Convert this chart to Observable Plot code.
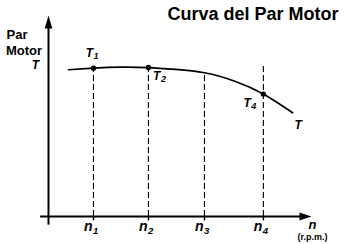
<!DOCTYPE html>
<html>
<head>
<meta charset="utf-8">
<script src="https://cdn.jsdelivr.net/npm/d3@7"></script>
<script src="https://cdn.jsdelivr.net/npm/@observablehq/plot@0.6"></script>
<style>
  html, body { margin: 0; padding: 0; background: #fff; }
</style>
</head>
<body>
<div id="chart"></div>
<script>
// Speed values (arbitrary units along the n axis)
const speedLabels = ["1", "2", "3", "4"];
const speeds = [1.71, 3.80, 5.93, 8.17];
// height where each dashed guide ends
const guideTops = [7.38, 7.41, 7.15, 7.56];

// Torque curve T(n)
const curveN = [0.76, 1.71, 2.74, 3.80, 4.83, 5.93, 7.11, 8.17, 9.28];
const curveT = [7.30, 7.38, 7.43, 7.41, 7.32, 7.15, 6.72, 6.09, 5.16];

// Marked torque points
const pointLabels = ["1", "2", "4"];
const pointN = [1.71, 3.80, 8.17];
const pointT = [7.38, 7.41, 6.09];

const xMax = 10, yMax = 10;

const curve = curveN.map((n, i) => ({n, t: curveT[i]}));
const guides = speeds.map((n, i) => ({n, top: guideTops[i], label: speedLabels[i]}));
const pts = pointN.map((n, i) => ({n, t: pointT[i], label: pointLabels[i]}));

const arrowUp = {draw(ctx) { ctx.moveTo(0, 0); ctx.lineTo(3.8, 13); ctx.lineTo(-3.8, 13); ctx.closePath(); }};
const arrowRight = {draw(ctx) { ctx.moveTo(0, 0); ctx.lineTo(-12, -4); ctx.lineTo(-12, 4); ctx.closePath(); }};

const font = "Liberation Sans, Arial, sans-serif";
const B = {fontWeight: "bold", fill: "black", stroke: "none", lineAnchor: "middle"};
const BI = {...B, fontStyle: "italic"};

const chart = Plot.plot({
  width: 350,
  height: 244,
  marginLeft: 48,
  marginRight: 39,
  marginTop: 15,
  marginBottom: 28,
  x: {domain: [0, xMax], axis: null},
  y: {domain: [0, yMax], axis: null},
  style: {fontFamily: font, background: "white", overflow: "visible"},
  marks: [
    // dashed guides
    Plot.ruleX(guides, {x: "n", y1: 0, y2: "top", stroke: "black", strokeWidth: 1.1, strokeDasharray: "6,3"}),
    // ticks below axis
    Plot.ruleX(guides, {x: "n", y1: 0, y2: -0.22, stroke: "black", strokeWidth: 1.5}),
    // axes
    Plot.ruleY([0], {x1: -0.3, x2: xMax - 0.3, stroke: "black", strokeWidth: 2}),
    Plot.ruleX([0], {y1: -0.43, y2: yMax - 0.4, stroke: "black", strokeWidth: 2}),
    Plot.dot([{x: 0, y: yMax}], {x: "x", y: "y", symbol: arrowUp, fill: "black", stroke: "none", r: 5}),
    Plot.dot([{x: xMax, y: 0}], {x: "x", y: "y", symbol: arrowRight, fill: "black", stroke: "none", r: 5}),
    // torque curve
    Plot.line(curve, {x: "n", y: "t", curve: "natural", stroke: "black", strokeWidth: 1.7}),
    Plot.dot(pts, {x: "n", y: "t", r: 2.7, fill: "black", stroke: "none"}),
    // point labels
    Plot.text([pts[0]], {x: "n", y: "t", text: () => "T", ...BI, fontSize: 12, textAnchor: "end", dx: -0.5, dy: -15}),
    Plot.text([pts[0]], {x: "n", y: "t", text: "label", ...BI, fontSize: 9, textAnchor: "start", dx: 0, dy: -12}),
    Plot.text([pts[1]], {x: "n", y: "t", text: () => "T", ...BI, fontSize: 12, textAnchor: "start", dx: 4.5, dy: 8.5}),
    Plot.text([pts[1]], {x: "n", y: "t", text: "label", ...BI, fontSize: 9, textAnchor: "start", dx: 12.5, dy: 12}),
    Plot.text([pts[2]], {x: "n", y: "t", text: () => "T", ...BI, fontSize: 12, textAnchor: "end", dx: -12.5, dy: 9.5}),
    Plot.text([pts[2]], {x: "n", y: "t", text: "label", ...BI, fontSize: 9, textAnchor: "start", dx: -12, dy: 12.5}),
    Plot.text([curve[curve.length - 1]], {x: "n", y: "t", text: () => "T", ...BI, fontSize: 12, textAnchor: "start", dx: 2, dy: 12.3}),
    // speed labels
    Plot.text(guides, {x: "n", y: () => 0, text: () => "n", ...BI, fontSize: 14, textAnchor: "end", dx: -1, dy: 10}),
    Plot.text(guides, {x: "n", y: () => 0, text: "label", ...BI, fontSize: 9.5, textAnchor: "start", dx: -0.5, dy: 14}),
    Plot.text([{x: xMax, y: 0}], {x: "x", y: "y", text: () => "n", ...BI, fontSize: 13, textAnchor: "middle", dx: 1, dy: 8.5}),
    Plot.text([{x: xMax, y: 0}], {x: "x", y: "y", text: () => "(r.p.m.)", ...B, fontSize: 9, textAnchor: "middle", dx: 1, dy: 21}),
    // y-axis label
    Plot.text(["Par"], {frameAnchor: "top-left", text: d => d, ...B, fontSize: 13, textAnchor: "start", dx: -42, dy: 19}),
    Plot.text(["Motor"], {frameAnchor: "top-left", text: d => d, ...B, fontSize: 13, textAnchor: "start", dx: -42.5, dy: 35.3}),
    Plot.text(["T"], {frameAnchor: "top-left", text: d => d, ...BI, fontSize: 12, textAnchor: "end", dx: -9.5, dy: 49.5}),
    // title
    Plot.text(["Curva del Par Motor"], {frameAnchor: "top-right", text: d => d, ...B, fontSize: 18, textAnchor: "end", dx: 27, dy: -0.8})
  ]
});
document.getElementById("chart").appendChild(chart);
</script>
</body>
</html>
